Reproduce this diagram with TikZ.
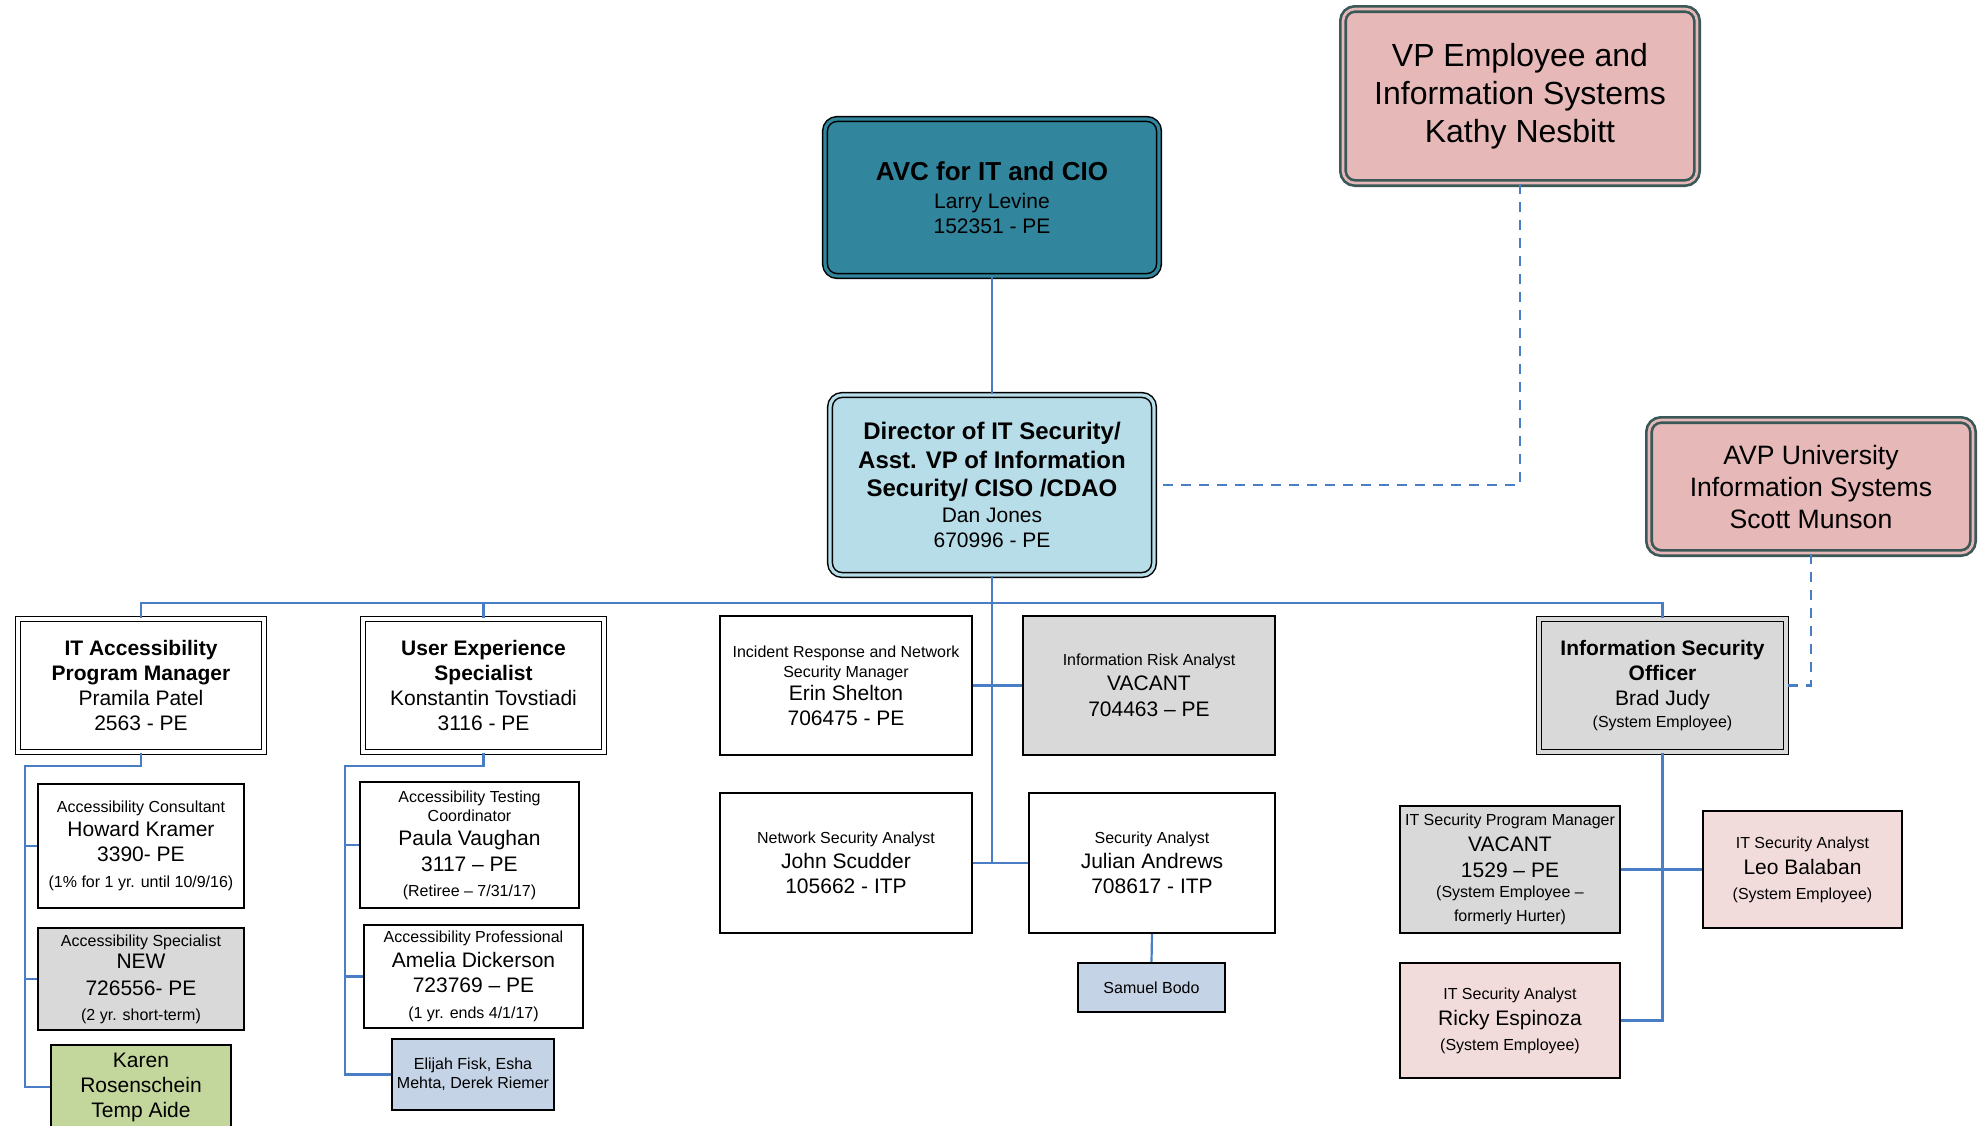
\documentclass[tikz,border=0pt]{standalone}
\usepackage{fontspec}
\setmainfont{Liberation Sans}
\definecolor{lnblue}{HTML}{4A7EC4}
\definecolor{avcfill}{HTML}{31859C}
\definecolor{dirfill}{HTML}{B7DDE8}
\definecolor{vpfill}{HTML}{E6B9B8}
\definecolor{vpline}{HTML}{3A5858}
\definecolor{greyfill}{HTML}{D9D9D9}
\definecolor{pinkfill}{HTML}{F2DCDB}
\definecolor{greenfill}{HTML}{C3D69B}
\definecolor{bluefill}{HTML}{C5D3E6}
\newcommand{\nf}{\fontsize{10.5}{12.5}\selectfont}
\newcommand{\sm}{\fontsize{8}{9.6}\selectfont}
\newcommand{\bt}{\bfseries}
\begin{document}
\begin{tikzpicture}[x=0.5pt,y=-0.5pt,
  box/.style={draw=black, line width=0.9pt, fill=white, inner sep=0pt, align=center, font=\nf},
  dbl/.style={box, line width=0.75pt, double=white, double distance=1.6pt},
  rdbl/.style={dbl, rounded corners=6pt},
  conn/.style={draw=lnblue, line width=1.1pt},
  dconn/.style={conn, dash pattern=on 5pt off 4pt}]
\useasboundingbox (0,0) rectangle (1982,1125);

% top level
\node[rdbl, fill=avcfill, double=avcfill, minimum width=167pt, minimum height=78.5pt] (avc) at (992,197.5)
  {{\fontsize{13}{15}\selectfont\bfseries AVC for IT and CIO}\\[1.5pt] Larry Levine\\ 152351 - PE};
\node[rdbl, fill=dirfill, double=dirfill, minimum width=162pt, minimum height=90pt] (dir) at (992,485)
  {{\fontsize{12}{14}\selectfont\bfseries Director of IT Security/}\\[1.8pt]
   {\fontsize{12}{14}\selectfont\bfseries Asst. VP of Information}\\[1.8pt]
   {\fontsize{12}{14}\selectfont\bfseries Security/ CISO /CDAO}\\[0.5pt]
   Dan Jones\\ 670996 - PE};
\node[rdbl, draw=vpline, fill=vpfill, double=vpfill, line width=1.35pt, double distance=1.3pt,
  minimum width=177pt, minimum height=87pt, font=\fontsize{16}{19}\selectfont] (vp) at (1520,96)
  {VP Employee and\\ Information Systems\\ Kathy Nesbitt};
\node[rdbl, draw=vpline, fill=vpfill, double=vpfill, line width=1.35pt, double distance=1.3pt,
  minimum width=162pt, minimum height=66.5pt, font=\fontsize{13.3}{16}\selectfont] (avp) at (1811,486.5)
  {AVP University\\ Information Systems\\ Scott Munson};

% second level
\node[dbl, minimum width=123pt, minimum height=66.5pt] (itacc) at (141,685.5)
  {\bt IT Accessibility\\ \bt Program Manager\\ Pramila Patel\\ 2563 - PE};
\node[dbl, minimum width=120.5pt, minimum height=66.5pt] (ux) at (483.5,685.5)
  {\bt User Experience\\ \bt Specialist\\ Konstantin Tovstiadi\\ 3116 - PE};
\node[box, minimum width=126pt, minimum height=69.5pt] (inc) at (846,685.5)
  {\sm Incident Response and Network\\[-2.5pt] \sm Security Manager\\[-1.1pt] Erin Shelton\\ 706475 - PE};
\node[box, fill=greyfill, minimum width=126pt, minimum height=69.5pt] (risk) at (1149,685.5)
  {\sm Information Risk Analyst\\ VACANT\\[0.5pt] 704463 – PE};
\node[dbl, fill=greyfill, double=greyfill, minimum width=123.5pt, minimum height=66.5pt] (iso) at (1662.5,685.5)
  {\bt Information Security\\ \bt Officer\\ Brad Judy\\[-1.9pt] \sm (System Employee)};

% middle group
\node[box, minimum width=126pt, minimum height=70pt] (nsa) at (846,863)
  {\sm Network Security Analyst\\ John Scudder\\ 105662 - ITP};
\node[box, minimum width=123pt, minimum height=70pt] (sa) at (1152,863)
  {\sm Security Analyst\\ Julian Andrews\\ 708617 - ITP};
\node[box, fill=bluefill, minimum width=73.5pt, minimum height=24.5pt] (sam) at (1151.5,987.5)
  {\sm Samuel Bodo};

% ISO group
\node[box, fill=greyfill, minimum width=110pt, minimum height=63.5pt] (itpm) at (1510,869.5)
  {\sm IT Security Program Manager\\[0.4pt] VACANT\\[0.5pt] 1529 – PE\\[-2.4pt] \sm (System Employee –\\[-0.5pt] \sm formerly Hurter)};
\node[box, fill=pinkfill, minimum width=99.5pt, minimum height=58.5pt] (leo) at (1802.5,869.5)
  {\sm IT Security Analyst\\[0.4pt] Leo Balaban\\ \sm (System Employee)};
\node[box, fill=pinkfill, minimum width=110pt, minimum height=57.5pt] (ricky) at (1510,1020.5)
  {\sm IT Security Analyst\\[0.4pt] Ricky Espinoza\\ \sm (System Employee)};

% IT accessibility group
\node[box, minimum width=103pt, minimum height=62pt] (cons) at (141,846)
  {\sm Accessibility Consultant\\[-0.6pt] Howard Kramer\\ 3390- PE\\[0.6pt] \sm (1\% for 1 yr. until 10/9/16)};
\node[box, fill=greyfill, minimum width=103pt, minimum height=51pt] (spec) at (141,979)
  {\sm Accessibility Specialist\\[-1.1pt] NEW\\[1pt] 726556- PE\\[-0.4pt] \sm (2 yr. short-term)};
\node[box, fill=greenfill, minimum width=90pt, minimum height=42pt] (karen) at (141,1087)
  {Karen\\ Rosenschein\\ Temp Aide};

% UX group
\node[box, minimum width=109.5pt, minimum height=63pt] (test) at (469.5,845)
  {\sm Accessibility Testing\\[-3pt] \sm Coordinator\\[-0.6pt] Paula Vaughan\\[0.5pt] 3117 – PE\\ \sm (Retiree – 7/31/17)};
\node[box, minimum width=109.5pt, minimum height=51.5pt] (prof) at (473.5,976.5)
  {\sm Accessibility Professional\\ Amelia Dickerson\\ 723769 – PE\\[0.6pt] \sm (1 yr. ends 4/1/17)};
\node[box, fill=bluefill, minimum width=81pt, minimum height=35.5pt, font=\fontsize{8}{9.5}\selectfont] (eli) at (473,1074.5)
  {Elijah Fisk, Esha\\ Mehta, Derek Riemer};

% connectors
\coordinate (bus) at (991,603);
\coordinate (accj) at (25,766);
\coordinate (uxj) at (345,766);
\draw[conn] (avc.south) -- (dir.north);
\draw[conn] (dir.south) -- (dir.south |- nsa.east);
\draw[conn] (itacc.north) |- (bus) -| (iso.north);
\draw[conn] (ux.north) -- (ux.north |- bus);
\draw[conn] (inc.east) -- (risk.west);
\draw[conn] (nsa.east) -- (sa.west);
\draw[conn] (sa.south) -- (sam.north);
\draw[dconn] (vp.south) |- (dir.east);
\draw[dconn] (avp.south) |- (iso.east);
\draw[conn] (iso.south) |- (ricky.east);
\draw[conn] (itpm.east) -- (leo.west);
\draw[conn] (itacc.south) |- (accj) |- (karen.west);
\draw[conn] (accj |- cons.west) -- (cons.west);
\draw[conn] (accj |- spec.west) -- (spec.west);
\draw[conn] (ux.south) |- (uxj) |- (eli.west);
\draw[conn] (uxj |- test.west) -- (test.west);
\draw[conn] (uxj |- prof.west) -- (prof.west);
\end{tikzpicture}
\end{document}
